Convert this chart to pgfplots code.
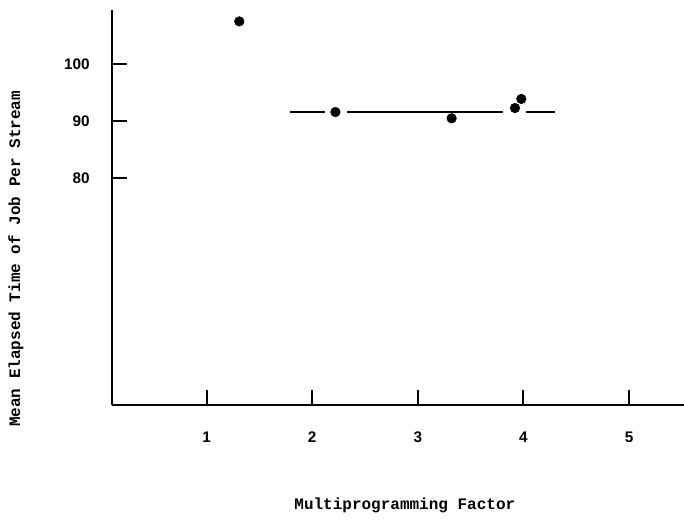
\documentclass[border=0pt]{standalone}
\usepackage{fontspec}
\setmainfont{Liberation Mono}
\newfontfamily\tickfont{Liberation Sans}
\usepackage{pgfplots}
\pgfplotsset{compat=1.18}

\begin{document}
\begin{tikzpicture}
\begin{axis}[
	name=ax,
	scale only axis,
	width=429pt, height=296.25pt,
	xmin=0.105, xmax=5.52,
	ymin=40.2, ymax=109.5,
	axis x line*=bottom, axis y line*=left,
	axis line style={-, line width=1.5pt},
	tick align=inside,
	major tick length=11.5pt,
	tick style={line width=1.5pt, black},
	xtick={1,2,3,4,5},
	ytick={80,90,100},
	/pgf/number format/assume math mode=true,
	ticklabel style={font=\tickfont\bfseries\fontsize{11.5}{13}\selectfont},
	xticklabel style={anchor=center, yshift=-24pt},
	yticklabel style={anchor=east, inner sep=0pt, xshift=-16.5pt},
	xlabel={Multiprogramming Factor},
	ylabel={Mean Elapsed Time of Job Per Stream},
	label style={font=\bfseries\fontsize{12}{14}\selectfont},
	xlabel style={anchor=center, at={(axis description cs:0.512,0)}, yshift=-75.5pt},
	ylabel style={anchor=center, at={(axis description cs:-0.168,0.37)}},
	clip=false,
]
\addplot[black, line width=1pt] coordinates {(1.79,91.6) (2.12,91.6)};
\addplot[black, line width=1pt] coordinates {(2.33,91.6) (3.81,91.6)};
\addplot[black, line width=1pt] coordinates {(4.02,91.6) (4.30,91.6)};
\addplot[only marks, mark=*, mark size=3.6pt, black] coordinates {
	(1.31,107.5) (2.22,91.6) (3.32,90.5) (3.92,92.3) (3.98,93.9)
};
\end{axis}
\pgfresetboundingbox
\path[use as bounding box] ([xshift=-84pt,yshift=-85.5pt]ax.south west) rectangle ([yshift=7.5pt]ax.north east);
\end{tikzpicture}
\end{document}
